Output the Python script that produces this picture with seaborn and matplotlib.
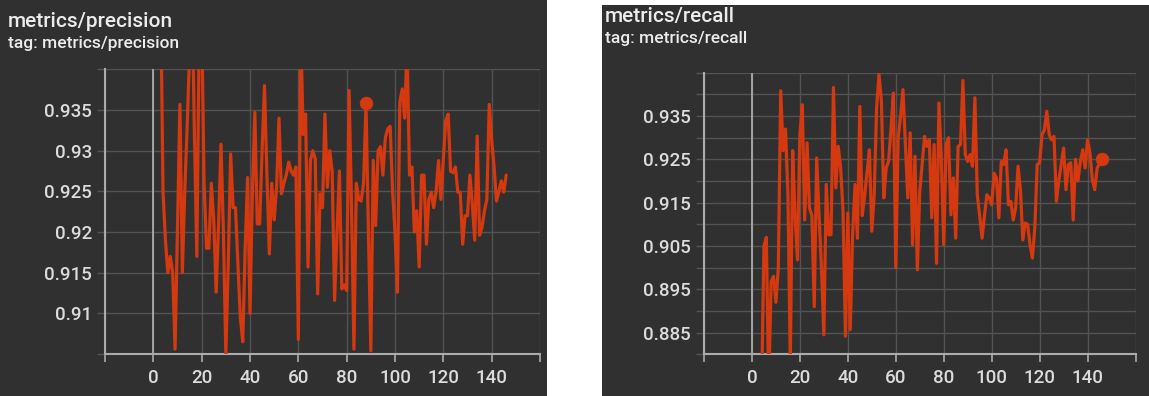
import numpy as np
import pandas as pd
import matplotlib
matplotlib.use("Agg")
import matplotlib.pyplot as plt
import seaborn as sns
from matplotlib.patches import Rectangle
from matplotlib.ticker import FixedLocator, FuncFormatter

# ---------------------------------------------------------------- data
precision_start = 3
precision = [
    0.950, 0.925, 0.919, 0.915, 0.917, 0.915, 0.9056, 0.921, 0.9357, 0.915,   # 3-12
    0.925, 0.933, 0.942, 0.950, 0.932, 0.917, 0.945, 0.946, 0.926, 0.918,     # 13-22
    0.918, 0.926, 0.9215, 0.9126, 0.921, 0.9308, 0.920, 0.905, 0.916, 0.9296, # 23-32
    0.923, 0.923, 0.916, 0.9095, 0.9065, 0.918, 0.9267, 0.910, 0.925, 0.9347, # 33-42
    0.921, 0.921, 0.930, 0.938, 0.927, 0.9173, 0.926, 0.9215, 0.9255, 0.934,  # 43-52
    0.9247, 0.926, 0.927, 0.9286, 0.9275, 0.927, 0.928, 0.9068, 0.945, 0.932, # 53-62
    0.9345, 0.9157, 0.9288, 0.930, 0.929, 0.9124, 0.9247, 0.923, 0.9345, 0.9255,  # 63-72
    0.930, 0.9275, 0.9116, 0.920, 0.9275, 0.913, 0.9135, 0.9128, 0.9374, 0.9234, # 73-82
    0.9056, 0.926, 0.924, 0.9238, 0.926, 0.9359, 0.920, 0.9054, 0.9288, 0.9208,  # 83-92
    0.930, 0.9305, 0.927, 0.9316, 0.9327, 0.933, 0.925, 0.920, 0.9126, 0.936,    # 93-102
    0.9376, 0.934, 0.943, 0.927, 0.928, 0.920, 0.9226, 0.9157, 0.927, 0.927,     # 103-112
    0.9185, 0.924, 0.9249, 0.923, 0.925, 0.9288, 0.924, 0.929, 0.9337, 0.9345,   # 113-122
    0.9275, 0.9273, 0.928, 0.9249, 0.9249, 0.9185, 0.922, 0.922, 0.927, 0.9234,  # 123-132
    0.919, 0.9318, 0.9196, 0.9206, 0.9226, 0.924, 0.9357, 0.9313, 0.928, 0.9238, # 133-142
    0.925, 0.9263, 0.9249, 0.927,                                                # 143-146
]

recall_start = 4
recall = [
    0.870, 0.905, 0.907, 0.872, 0.8968, 0.898, 0.892, 0.900, 0.9408, 0.927,     # 4-13
    0.932, 0.917, 0.878, 0.927, 0.912, 0.9018, 0.9307, 0.9376, 0.911, 0.9288,   # 14-23
    0.9138, 0.912, 0.891, 0.9253, 0.912, 0.900, 0.8845, 0.9192, 0.9076, 0.9076, # 24-33
    0.9416, 0.9184, 0.928, 0.923, 0.913, 0.8842, 0.9126, 0.8857, 0.9076, 0.9192,# 34-43
    0.9068, 0.9372, 0.912, 0.9165, 0.922, 0.9272, 0.9084, 0.9168, 0.9368, 0.9447, # 44-53
    0.9384, 0.9161, 0.923, 0.9245, 0.932, 0.9403, 0.900, 0.930, 0.935, 0.9411,    # 54-63
    0.9284, 0.9161, 0.9311, 0.9053, 0.9257, 0.8995, 0.9176, 0.9238, 0.9303, 0.928, # 64-73
    0.9295, 0.9115, 0.9284, 0.901, 0.938, 0.925, 0.9053, 0.9284, 0.930, 0.9122,   # 74-83
    0.9207, 0.9068, 0.928, 0.9284, 0.9432, 0.9261, 0.9245, 0.9261, 0.9234, 0.9392, # 84-93
    0.9168, 0.912, 0.9068, 0.912, 0.9168, 0.9161, 0.9145, 0.9218, 0.9207, 0.9115,  # 94-103
    0.9245, 0.9238, 0.9272, 0.9145, 0.9153, 0.911, 0.9138, 0.9234, 0.918, 0.9064,  # 104-113
    0.9103, 0.910, 0.9053, 0.9022, 0.9092, 0.9238, 0.9242, 0.9307, 0.9318, 0.9361, # 114-123
    0.9307, 0.9295, 0.9303, 0.9153, 0.920, 0.9238, 0.9276, 0.918, 0.9238, 0.9242,  # 124-133
    0.911, 0.925, 0.920, 0.9245, 0.9272, 0.923, 0.9295, 0.9265, 0.9203, 0.918,     # 134-143
    0.923, 0.924, 0.925,                                                           # 144-146
]

precision_marker_step = 88
recall_marker_step = 146

x_ticks = [-20, 0, 20, 40, 60, 80, 100, 120, 140, 160]
x_tick_labels = ["", "0", "20", "40", "60", "80", "100", "120", "140", ""]

precision_ylim = (0.905, 0.94)
precision_labels = [0.91, 0.915, 0.92, 0.925, 0.93, 0.935]
recall_ylim = (0.88, 0.945)
recall_labels = [0.885, 0.895, 0.905, 0.915, 0.925, 0.935]

titles = ["metrics/precision", "metrics/recall"]
subtitles = ["tag: metrics/precision", "tag: metrics/recall"]

# ---------------------------------------------------------------- style
BG = "#303030"
GRID = "#535353"
AXIS = "#ababab"
TEXT = "#ececec"
LABEL = "#dcdcdc"
LINE = "#d5390f"

sns.set_theme(style="dark")
plt.rcParams["font.family"] = ["Roboto", "DejaVu Sans"]

W, H = 1149, 396
fig = plt.figure(figsize=(W / 100, H / 100), dpi=100, facecolor="white")


def panel(x0, y0, x1, y1):
    fig.add_artist(Rectangle((x0 / W, 1 - y1 / H), (x1 - x0) / W, (y1 - y0) / H,
                             transform=fig.transFigure, facecolor=BG,
                             edgecolor="none", zorder=0))


def px_axes(x0, y0, x1, y1):
    return fig.add_axes([x0 / W, 1 - y1 / H, (x1 - x0) / W, (y1 - y0) / H])


panel(0, 0, 547, 396)
panel(602, 5, 1149, 396)


def draw(ax, start, values, ylim, labels, marker_step):
    df = pd.DataFrame({"step": np.arange(start, start + len(values)),
                       "value": values})
    ax.set_facecolor(BG)
    ax.set_axisbelow(True)
    ax.grid(True, color=GRID, linewidth=1.0)

    yt = np.round(np.arange(ylim[0], ylim[1] + 1e-9, 0.005), 3)
    ax.yaxis.set_major_locator(FixedLocator(yt))
    lab = set(np.round(labels, 3))
    ax.yaxis.set_major_formatter(FuncFormatter(
        lambda v, _: f"{v:g}" if round(v, 3) in lab else ""))
    ax.set_xticks(x_ticks)
    ax.set_xticklabels(x_tick_labels)
    ax.set_xlim(x_ticks[0], x_ticks[-1])
    ax.set_ylim(*ylim)

    ax.axvline(0, color=AXIS, linewidth=1.3, zorder=1.5)
    sns.lineplot(data=df, x="step", y="value", ax=ax, color=LINE,
                 linewidth=2.3, zorder=3)
    m = df[df["step"] == marker_step]
    sns.scatterplot(data=m, x="step", y="value", ax=ax, color=LINE,
                    edgecolor=LINE, s=80, zorder=4, legend=False)

    ax.set_xlabel("")
    ax.set_ylabel("")
    for side in ("top", "right"):
        ax.spines[side].set_visible(False)
    for side in ("left", "bottom"):
        ax.spines[side].set_visible(True)
        ax.spines[side].set_color(AXIS)
        ax.spines[side].set_linewidth(1.5)
    ax.tick_params(axis="x", length=5.5, width=1.2, color=AXIS,
                   labelcolor=LABEL, labelsize=13.5, pad=5)
    ax.tick_params(axis="y", length=5.5, width=1.0, color=GRID,
                   labelcolor=LABEL, labelsize=13.5, pad=4)
    ax.tick_params(bottom=True, left=True)
    for t in ax.get_xticklabels() + ax.get_yticklabels():
        t.set_fontweight("medium")


ax1 = px_axes(105, 69.4, 540, 354)
draw(ax1, precision_start, precision, precision_ylim, precision_labels,
     precision_marker_step)
ax2 = px_axes(704, 72.7, 1135.5, 354.3)
draw(ax2, recall_start, recall, recall_ylim, recall_labels, recall_marker_step)

# panel headers
for (x, yb1, yb2), t, s in zip([(8, 26.7, 48.3), (605, 21.7, 42.7)],
                               titles, subtitles):
    fig.text(x / W, 1 - yb1 / H, t, color=TEXT, fontsize=15, va="baseline",
             ha="left", fontweight="medium")
    fig.text(x / W, 1 - yb2 / H, s, color=TEXT, fontsize=12.5, va="baseline",
             ha="left", fontweight="medium")

fig.savefig("out.png", dpi=100, facecolor="white")
